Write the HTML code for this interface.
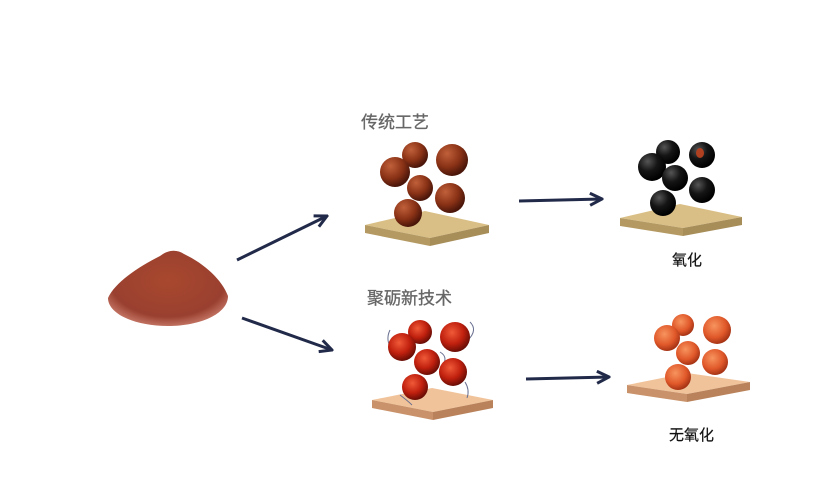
<!DOCTYPE html>
<html><head><meta charset="utf-8"><style>
html,body{margin:0;padding:0;background:#fff;}
svg{display:block}
text{font-family:"Liberation Sans","Noto Sans CJK SC",sans-serif;}
</style></head><body>
<svg width="830" height="484" viewBox="0 0 830 484" xmlns="http://www.w3.org/2000/svg">
<defs>
<radialGradient id="br" cx="35%" cy="30%" r="70%"><stop offset="0" stop-color="#c0603a"/><stop offset="0.6" stop-color="#8a3216"/><stop offset="1" stop-color="#4a160a"/></radialGradient>
<radialGradient id="bk" cx="35%" cy="30%" r="70%"><stop offset="0" stop-color="#555"/><stop offset="0.5" stop-color="#151515"/><stop offset="1" stop-color="#000"/></radialGradient>
<radialGradient id="rd" cx="40%" cy="35%" r="70%"><stop offset="0" stop-color="#f05a38"/><stop offset="0.55" stop-color="#c0200e"/><stop offset="1" stop-color="#5a0a04"/></radialGradient>
<radialGradient id="or" cx="40%" cy="35%" r="70%"><stop offset="0" stop-color="#f7945e"/><stop offset="0.6" stop-color="#e0582a"/><stop offset="1" stop-color="#9a2c10"/></radialGradient>
<radialGradient id="pw" cx="50%" cy="40%" r="60%"><stop offset="0" stop-color="#a8482e"/><stop offset="0.8" stop-color="#9a4030"/><stop offset="1" stop-color="#c07060"/></radialGradient>
<marker id="ah" viewBox="0 0 10 10" refX="9" refY="5" markerWidth="5" markerHeight="5" orient="auto"><path d="M1,1 L9,5 L1,9" fill="none" stroke="#222a4a" stroke-width="2"/></marker>
</defs>
<!-- powder -->
<path d="M108,298 C115,282 140,266 160,256 C168,250 176,249 184,254 C205,264 222,280 228,296 C228,314 200,326 168,326 C135,326 108,314 108,298 Z" fill="url(#pw)"/>
<!-- arrows -->
<g stroke="#222a4a" stroke-width="3" fill="none" marker-end="url(#ah)">
<line x1="237" y1="260" x2="327" y2="216"/>
<line x1="242" y1="318" x2="332" y2="350"/>
<line x1="519" y1="201" x2="602" y2="199"/>
<line x1="526" y1="379" x2="609" y2="377"/>
</g>
<!-- plates -->
<g>
<polygon points="365,225 425,211 489,225 430,238" fill="#d9bf85"/>
<polygon points="365,225 430,238 430,246 365,233" fill="#b49a62"/>
<polygon points="430,238 489,225 489,233 430,246" fill="#a78d58"/>

<polygon points="620,218 680,204 742,217 683,228" fill="#d9bf85"/>
<polygon points="620,218 683,228 683,236 620,226" fill="#b49a62"/>
<polygon points="683,228 742,217 742,225 683,236" fill="#a78d58"/>

<polygon points="372,400 432,388 493,400 433,412" fill="#f1c39a"/>
<polygon points="372,400 433,412 433,420 372,408" fill="#c9926a"/>
<polygon points="433,412 493,400 493,408 433,420" fill="#b9825a"/>

<polygon points="627,385 687,373 750,382 687,394" fill="#f1c39a"/>
<polygon points="627,385 687,394 687,402 627,393" fill="#c9926a"/>
<polygon points="687,394 750,382 750,390 687,402" fill="#b9825a"/>
</g>
<g fill="url(#br)">
<circle cx="415" cy="155" r="13"/><circle cx="395" cy="172" r="15"/><circle cx="452" cy="160" r="16"/>
<circle cx="420" cy="188" r="13"/><circle cx="450" cy="198" r="15"/><circle cx="408" cy="213" r="14"/>
</g>
<g fill="url(#bk)">
<circle cx="668" cy="152" r="12"/><circle cx="702" cy="155" r="13"/><circle cx="652" cy="167" r="14"/>
<circle cx="675" cy="178" r="13"/><circle cx="702" cy="190" r="13"/><circle cx="663" cy="203" r="13"/>
</g>
<ellipse cx="700" cy="153" rx="4" ry="5" fill="#b04020"/>
<g stroke="#6a7090" stroke-width="1" fill="none">
<path d="M390,330 q-5,10 2,20"/><path d="M470,322 q8,8 -2,18"/><path d="M440,352 q10,6 0,16"/><path d="M400,395 q8,6 12,10"/><path d="M465,382 q5,8 2,16"/>
</g>
<g fill="url(#rd)">
<circle cx="420" cy="332" r="12"/><circle cx="402" cy="347" r="14"/><circle cx="455" cy="337" r="15"/>
<circle cx="427" cy="362" r="13"/><circle cx="453" cy="372" r="14"/><circle cx="415" cy="387" r="13"/>
</g>
<g fill="url(#or)">
<circle cx="683" cy="325" r="11"/><circle cx="717" cy="330" r="14"/><circle cx="667" cy="338" r="13"/>
<circle cx="688" cy="353" r="12"/><circle cx="715" cy="362" r="13"/><circle cx="678" cy="377" r="13"/>
</g>
<text x="361" y="128" font-size="17" fill="#666" stroke="#666" stroke-width="0.3">传统工艺</text>
<text x="367" y="304" font-size="17" fill="#666" stroke="#666" stroke-width="0.3">聚砺新技术</text>
<text x="672" y="265" font-size="15" fill="#111" stroke="#111" stroke-width="0.2">氧化</text>
<text x="669" y="440" font-size="15" fill="#111" stroke="#111" stroke-width="0.2">无氧化</text>
</svg>
</body></html>
